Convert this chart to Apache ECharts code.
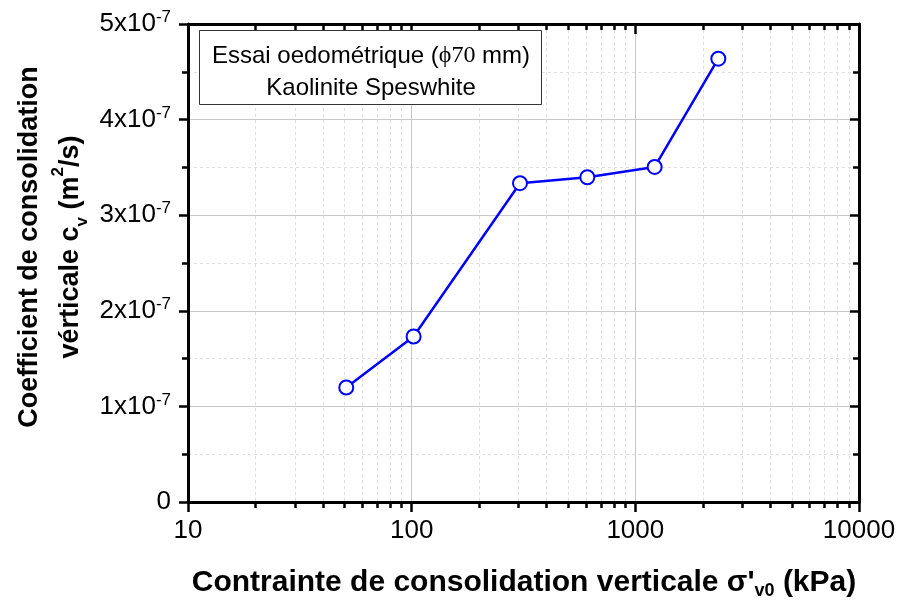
<!DOCTYPE html>
<html>
<head>
<meta charset="utf-8">
<script src="https://cdn.jsdelivr.net/npm/echarts@6/dist/echarts.min.js"></script>
<style>
html,body{margin:0;padding:0;background:#fff;}
#chart{width:900px;height:604px;}
</style>
</head>
<body>
<div id="chart"></div>
<script>
// ---- data ----
const stressKPa = [51, 102, 305, 610, 1220, 2350];
const cvValues = [1.198e-7, 1.731e-7, 3.335e-7, 3.397e-7, 3.505e-7, 4.637e-7];
const xTickLabels = ['10', '100', '1000', '10000'];
const yTickLabels = ['0', '1x10^-7', '2x10^-7', '3x10^-7', '4x10^-7', '5x10^-7'];
const xMinorTicks = [20,30,40,50,60,70,80,90,200,300,400,500,600,700,800,900,2000,3000,4000,5000,6000,7000,8000,9000];
const legendLine1 = 'Essai oedométrique (';
const legendPhi = 'ϕ70';
const legendLine1End = ' mm)';
const legendLine2 = 'Kaolinite Speswhite';

const FONT = '"Liberation Sans", Arial, sans-serif';
const chart = echarts.init(document.getElementById('chart'), null, {renderer: 'canvas'});

const yLabelMap = {};
yTickLabels.forEach((t, i) => { yLabelMap[i] = t; });

function yFormatter(v) {
  const idx = Math.round(v / 1e-7);
  const t = yLabelMap[idx];
  if (t === undefined) return '';
  if (t.indexOf('^') < 0) return '{a|' + t + '}';
  const parts = t.split('^');
  return '{a|' + parts[0] + '}{b|' + parts[1] + '}';
}
function xFormatter(v) {
  const s = String(Math.round(v));
  return xTickLabels.indexOf(s) >= 0 ? s : '';
}

const option = {
  animation: false,
  backgroundColor: '#ffffff',
  grid: {left: 188, right: 41, top: 24, bottom: 102, containLabel: false},
  xAxis: [{
    type: 'log', logBase: 10, min: 10, max: 10000, position: 'bottom',
    axisLine: {show: true, onZero: false, lineStyle: {color: '#000', width: 3}},
    axisTick: {show: true, inside: false, length: 10, lineStyle: {color: '#000', width: 2.5}},
    axisLabel: {show: true, margin: 16, color: '#000', fontSize: 26, fontFamily: FONT, formatter: xFormatter},
    splitLine: {show: true, lineStyle: {color: '#c8c8c8', width: 1}},
    minorTick: {show: false}, minorSplitLine: {show: false}
  }, {
    type: 'log', logBase: 10, min: 10, max: 10000, position: 'top',
    axisLine: {show: true, onZero: false, lineStyle: {color: '#000', width: 3}},
    axisTick: {show: true, inside: true, length: 10, lineStyle: {color: '#000', width: 2.5}},
    axisLabel: {show: false},
    splitLine: {show: false}
  }],
  yAxis: [{
    type: 'value', min: 0, max: 5e-7, interval: 1e-7, position: 'left',
    axisLine: {show: true, onZero: false, lineStyle: {color: '#000', width: 3}},
    axisTick: {show: true, inside: false, length: 9, lineStyle: {color: '#000', width: 2.5}},
    minorTick: {show: true, splitNumber: 2, length: 6, lineStyle: {color: '#000', width: 2.5}},
    splitLine: {show: true, lineStyle: {color: '#c8c8c8', width: 1}},
    minorSplitLine: {show: true, lineStyle: {color: '#e0e0e0', width: 1, type: [3, 3]}},
    axisLabel: {
      show: true, margin: 17, formatter: yFormatter,
      rich: {
        a: {fontSize: 26, fontFamily: FONT, color: '#000', lineHeight: 30},
        b: {fontSize: 17, fontFamily: FONT, color: '#000', lineHeight: 15, verticalAlign: 'top'}
      }
    }
  }, {
    type: 'value', min: 0, max: 5e-7, interval: 1e-7, position: 'right',
    axisLine: {show: true, onZero: false, lineStyle: {color: '#000', width: 3}},
    axisTick: {show: true, inside: true, length: 9, lineStyle: {color: '#000', width: 2.5}},
    minorTick: {show: true, splitNumber: 2, length: 6, lineStyle: {color: '#000', width: 2.5}},
    splitLine: {show: false},
    axisLabel: {show: false}
  }],
  series: [{
    type: 'custom',
    xAxisIndex: 0, yAxisIndex: 0,
    z: 1,
    silent: true,
    clip: false,
    data: xMinorTicks.map(v => [v, 0]),
    encode: {x: 0, y: 1},
    renderItem: function (params, api) {
      const cs = params.coordSys;
      const x = Math.round(api.coord([api.value(0), 0])[0]) + 0.5;
      const top = cs.y, bottom = cs.y + cs.height;
      return {
        type: 'group',
        children: [
          {type: 'line', shape: {x1: x, y1: top, x2: x, y2: bottom},
           style: {stroke: '#e0e0e0', lineWidth: 1, lineDash: [3, 3]}, z2: 0},
          {type: 'line', shape: {x1: x, y1: bottom, x2: x, y2: bottom + 6},
           style: {stroke: '#000', lineWidth: 2.5}, z2: 5},
          {type: 'line', shape: {x1: x, y1: top, x2: x, y2: top + 6},
           style: {stroke: '#000', lineWidth: 2.5}, z2: 5}
        ]
      };
    }
  }, {
    type: 'line',
    xAxisIndex: 0, yAxisIndex: 0,
    z: 5,
    data: stressKPa.map((x, i) => [x, cvValues[i]]),
    lineStyle: {color: '#0000ff', width: 2.5},
    symbol: 'circle', symbolSize: 14,
    itemStyle: {color: '#ffffff', borderColor: '#0000ff', borderWidth: 2},
    showSymbol: true
  }],
  graphic: [
    {
      type: 'rect', left: 199, top: 30, z: 10,
      shape: {width: 342, height: 74},
      style: {fill: '#ffffff', stroke: '#333333', lineWidth: 1}
    },
    {
      type: 'text', x: 371, y: 56, z: 11,
      style: {
        text: '{a|' + legendLine1 + '}{p|' + legendPhi + '}{a|' + legendLine1End + '}',
        align: 'center', verticalAlign: 'middle',
        rich: {
          a: {fontSize: 24, fontFamily: FONT, fill: '#000'},
          p: {fontSize: 24, fontFamily: '"Liberation Serif", "Times New Roman", serif', fill: '#000'}
        }
      }
    },
    {
      type: 'text', x: 371, y: 88, z: 11,
      style: {text: legendLine2, align: 'center', verticalAlign: 'middle',
        fontSize: 24, fontFamily: FONT, fill: '#000'}
    },
    {
      type: 'text', x: 524, y: 583, z: 11,
      style: {
        text: '{t|Contrainte de consolidation verticale σ\'}{s|v0}{t| (kPa)}',
        align: 'center', verticalAlign: 'middle',
        rich: {
          t: {fontSize: 30, fontWeight: 'bold', fontFamily: FONT, fill: '#000', lineHeight: 34},
          s: {fontSize: 18, fontWeight: 'bold', fontFamily: FONT, fill: '#000', lineHeight: 18, verticalAlign: 'bottom'}
        }
      }
    },
    {
      type: 'text', x: 50, y: 247, z: 11, rotation: Math.PI / 2,
      style: {
        text: '{t|Coefficient de consolidation}\n{t|vérticale c}{s|v}{t| (m}{u|2}{t|/s)}',
        align: 'center', verticalAlign: 'middle',
        rich: {
          t: {fontSize: 27, fontWeight: 'bold', fontFamily: FONT, fill: '#000', lineHeight: 41},
          s: {fontSize: 17, fontWeight: 'bold', fontFamily: FONT, fill: '#000', lineHeight: 22, verticalAlign: 'bottom'},
          u: {fontSize: 17, fontWeight: 'bold', fontFamily: FONT, fill: '#000', lineHeight: 28, verticalAlign: 'top'}
        }
      }
    }
  ]
};
chart.setOption(option);
</script>
</body>
</html>
